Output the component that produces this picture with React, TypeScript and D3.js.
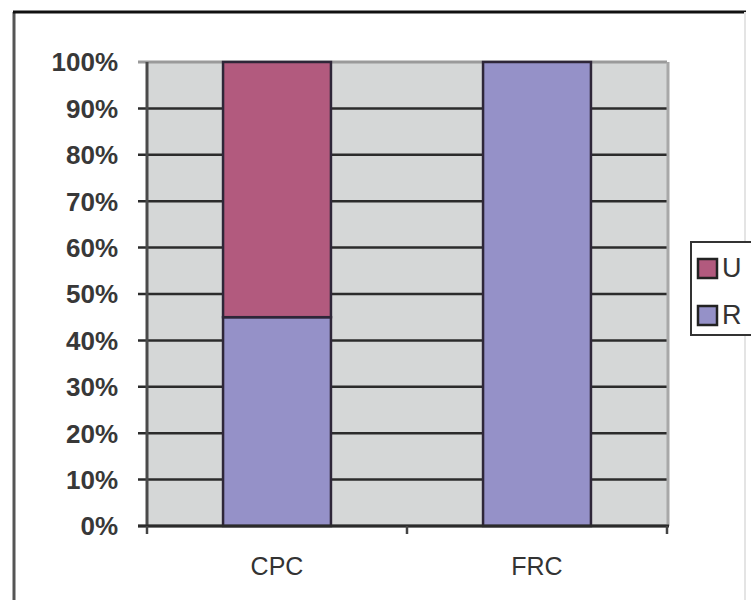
import React from "react";
import * as d3 from "d3";

const categories = ["CPC", "FRC"];
const seriesNames = ["R", "U"];
const valuesR = [45, 100];
const valuesU = [55, 0];
const yTicks = [0, 10, 20, 30, 40, 50, 60, 70, 80, 90, 100];
const legendItems = ["U", "R"];
const colors: Record<string, string> = { R: "#9591c8", U: "#b25a7e" };

const W = 751;
const H = 600;
const plot = { left: 147, right: 667, top: 62, bottom: 526 };

export default function App() {
  const x = d3
    .scaleBand<string>()
    .domain(categories)
    .range([plot.left, plot.right])
    .paddingInner(0.585)
    .paddingOuter(0.2925);
  const y = d3.scaleLinear().domain([0, 100]).range([plot.bottom, plot.top]);

  const table = categories.map((c, i) => ({ cat: c, R: valuesR[i], U: valuesU[i] }));
  const stacked = d3.stack<any>().keys(seriesNames)(table);

  const font = "'Liberation Sans', Arial, sans-serif";
  const bandStep = (plot.right - plot.left) / categories.length;

  return (
    <svg
      width={W}
      height={H}
      style={{ position: "absolute", left: 0, top: 0, display: "block", background: "#fff" }}
    >
      {/* outer frame */}
      <line x1={14} y1={12} x2={14} y2={H} stroke="#555" strokeWidth={3} />
      <line x1={13} y1={12} x2={746} y2={12} stroke="#111" strokeWidth={3} />
      <line x1={745} y1={12} x2={745} y2={H} stroke="#e4e4e4" strokeWidth={2} />

      {/* plot area */}
      <rect
        x={plot.left}
        y={plot.top}
        width={plot.right - plot.left}
        height={plot.bottom - plot.top}
        fill="#d5d7d7"
      />
      {/* gridlines */}
      {yTicks.map((t) => (
        <line
          key={t}
          x1={plot.left - 9}
          x2={plot.right}
          y1={y(t)}
          y2={y(t)}
          stroke={t === 100 ? "#9a9a9a" : "#2b2b2b"}
          strokeWidth={t === 100 ? 3 : 2.5}
        />
      ))}
      {/* right border of plot */}
      <line x1={plot.right + 1} x2={plot.right + 1} y1={plot.top} y2={plot.bottom} stroke="#a8a8a8" strokeWidth={3} />

      {/* bars */}
      {stacked.map((s) =>
        s.map((d, i) =>
          d[1] - d[0] > 0 ? (
            <rect
              key={s.key + i}
              x={x(categories[i])!}
              y={y(d[1])}
              width={x.bandwidth()}
              height={y(d[0]) - y(d[1])}
              fill={colors[s.key]}
              stroke="#2e2638"
              strokeWidth={2.5}
            />
          ) : null
        )
      )}

      {/* axes */}
      <line x1={plot.left} x2={plot.left} y1={plot.top} y2={plot.bottom} stroke="#4a4a4a" strokeWidth={3} />
      <line x1={plot.left - 9} x2={plot.right + 2} y1={plot.bottom} y2={plot.bottom} stroke="#2b2b2b" strokeWidth={3} />
      {d3.range(categories.length + 1).map((i) => (
        <line
          key={i}
          x1={plot.left + i * bandStep}
          x2={plot.left + i * bandStep}
          y1={plot.bottom}
          y2={plot.bottom + 8}
          stroke="#444"
          strokeWidth={2.5}
        />
      ))}

      {/* y tick labels */}
      {yTicks.map((t) => (
        <text
          key={t}
          x={118}
          y={y(t)}
          dy="0.36em"
          textAnchor="end"
          fontFamily={font}
          fontSize={26}
          fontWeight="bold"
          fill="#383838"
        >
          {t}%
        </text>
      ))}

      {/* category labels */}
      {categories.map((c) => (
        <text
          key={c}
          x={x(c)! + x.bandwidth() / 2}
          y={575}
          textAnchor="middle"
          fontFamily={font}
          fontSize={25}
          fill="#333"
        >
          {c}
        </text>
      ))}

      {/* legend */}
      <rect x={691} y={242} width={70} height={93} fill="#fff" stroke="#333" strokeWidth={2} />
      {legendItems.map((k, i) => (
        <g key={k} transform={`translate(698, ${259 + i * 47})`}>
          <rect width={19} height={19} fill={colors[k]} stroke="#222" strokeWidth={2.5} />
          <text x={24} y={18} fontFamily={font} fontSize={27} fill="#333">
            {k}
          </text>
        </g>
      ))}
    </svg>
  );
}
